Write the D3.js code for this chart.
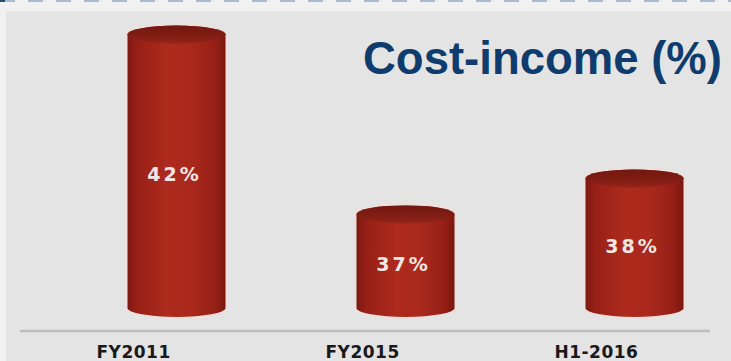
<!DOCTYPE html>
<html>
<head>
<meta charset="utf-8">
<script src="https://cdn.jsdelivr.net/npm/d3@7"></script>
<style>
  html, body { margin: 0; padding: 0; background: #f1f1f1; }
  svg { display: block; }
</style>
</head>
<body>
<div id="chart"></div>
<script>
// ------------------------------------------------ Data -------------------------------------------------
var categories = ['FY2011', 'FY2015', 'H1-2016']
var values = [42, 37, 38]
var value_labels = ['42%', '37%', '38%']
var title_text = 'Cost-income (%)'

var width = 731
var height = 361

var svg = d3.select("#chart")
    .append("svg")
    .attr("width", width)
    .attr("height", height)

// ------------------------------------------------ Defs (gradients, glow) -------------------------------------------------
var defs = svg.append("defs")

var body_grad = defs.append("linearGradient")
    .attr("id", "bodyGrad")
    .attr("x1", "0%").attr("x2", "100%").attr("y1", "0%").attr("y2", "0%")
body_grad.selectAll("stop")
    .data([[0, "#7c1a12"], [0.1, "#981f16"], [0.4, "#ad2a1d"], [0.65, "#aa291c"], [0.9, "#951f16"], [1, "#771810"]])
    .join("stop")
    .attr("offset", function(d){ return d[0] })
    .attr("stop-color", function(d){ return d[1] })

var cap_grad = defs.append("linearGradient")
    .attr("id", "capGrad")
    .attr("x1", "0%").attr("x2", "0%").attr("y1", "0%").attr("y2", "100%")
cap_grad.selectAll("stop")
    .data([[0, "#701811"], [0.6, "#821d14"], [1, "#952318"]])
    .join("stop")
    .attr("offset", function(d){ return d[0] })
    .attr("stop-color", function(d){ return d[1] })

var glow = defs.append("filter").attr("id", "glow")
    .attr("x", "-10%").attr("y", "-10%").attr("width", "120%").attr("height", "120%")
glow.append("feGaussianBlur").attr("stdDeviation", 1.2)

// ------------------------------------------------ Background panel -------------------------------------------------
svg.append("rect")
    .attr("x", 6)
    .attr("y", 11)
    .attr("width", width - 6)
    .attr("height", height - 11)
    .style("fill", "#e4e4e4")

// dashed rule at the very top
svg.append("line")
    .attr("x1", 0).attr("x2", width)
    .attr("y1", 1).attr("y2", 1)
    .style("stroke", "#a7bccf")
    .style("stroke-width", 2)
    .style("stroke-dasharray", "15 13")
svg.append("line")
    .attr("x1", 0).attr("x2", 5)
    .attr("y1", 1).attr("y2", 1)
    .style("stroke", "#1f4e79")
    .style("stroke-width", 2)

// ------------------------------------------------ Scales -------------------------------------------------
var x = d3.scalePoint()
    .domain(categories)
    .range([176.5, 634.5])

// truncated value axis, as in the original picture
var y = d3.scaleLinear()
    .domain([34.4, 42])
    .range([308, 34.5])

var bar_w = 98
var ry = 9
var y_base = y.range()[0]

var data = categories.map(function(c, i){ return {cat: c, value: values[i], label: value_labels[i]} })

// ------------------------------------------------ Baseline -------------------------------------------------
svg.append("line")
    .attr("x1", 20).attr("x2", 710)
    .attr("y1", 331).attr("y2", 331)
    .style("stroke", "#bdbdbd")
    .style("stroke-width", 2.5)

// ------------------------------------------------ Cylinders -------------------------------------------------
var cylinder_path = function(d) {
    var cx = x(d.cat)
    var x0 = cx - bar_w / 2
    var x1 = cx + bar_w / 2
    var yt = y(d.value)
    return "M" + x0 + "," + yt +
        "L" + x0 + "," + y_base +
        "A" + (bar_w / 2) + "," + ry + " 0 0 0 " + x1 + "," + y_base +
        "L" + x1 + "," + yt +
        "A" + (bar_w / 2) + "," + ry + " 0 0 0 " + x0 + "," + yt + "Z"
}

var bars = svg.append("g").attr("id", "bars")
    .selectAll("g")
    .data(data)
    .join("g")

// soft light halo round each cylinder
bars.append("path")
    .attr("d", cylinder_path)
    .style("fill", "none")
    .style("stroke", "#f6ddd8")
    .style("stroke-width", 2.5)
    .attr("filter", "url(#glow)")

bars.append("path")
    .attr("d", cylinder_path)
    .style("fill", "url(#bodyGrad)")

bars.append("ellipse")
    .attr("cx", function(d){ return x(d.cat) })
    .attr("cy", function(d){ return y(d.value) })
    .attr("rx", bar_w / 2)
    .attr("ry", ry)
    .style("fill", "url(#capGrad)")

// value labels
bars.append("text")
    .attr("x", function(d){ return x(d.cat) - 2 })
    .attr("y", function(d){ return (y(d.value) + y_base) / 2 + 10 })
    .style("text-anchor", "middle")
    .style("font-family", "'DejaVu Sans', sans-serif")
    .style("font-weight", "bold")
    .style("font-size", "19px")
    .style("letter-spacing", "3px")
    .style("fill", "#f3e6e4")
    .text(function(d){ return d.label })

// category labels, sitting a little left of each bar
svg.append("g").attr("id", "cats")
    .selectAll("text")
    .data(data)
    .join("text")
    .attr("x", function(d){ return x(d.cat) - bar_w / 2 - 31 })
    .attr("y", 358)
    .style("font-family", "'DejaVu Sans', sans-serif")
    .style("font-weight", "bold")
    .style("font-size", "17px")
    .style("letter-spacing", "0.5px")
    .style("fill", "#1a1a1a")
    .text(function(d){ return d.cat })

// ------------------------------------------------ Title -------------------------------------------------
svg.append("text")
    .attr("x", 363)
    .attr("y", 74)
    .style("font-family", "'Liberation Sans', Arial, sans-serif")
    .style("font-weight", "bold")
    .style("font-size", "45.5px")
    .style("fill", "#0f3c6e")
    .text(title_text)
</script>
</body>
</html>
